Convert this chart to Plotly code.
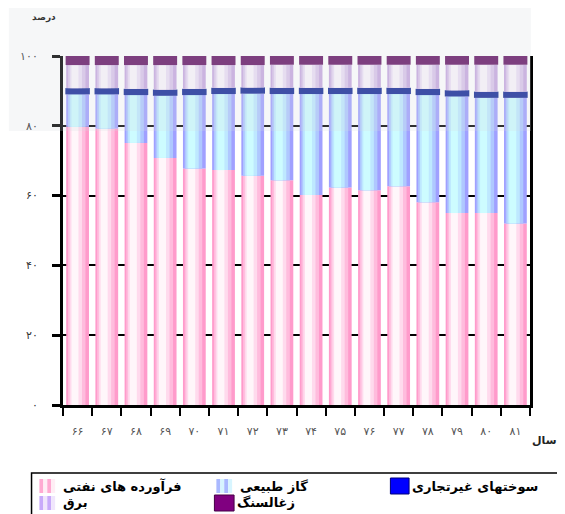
import plotly.graph_objects as go
import numpy as np

# years (Persian digits) and y ticks
years = ['۶۶', '۶۷', '۶۸', '۶۹', '۷۰', '۷۱', '۷۲', '۷۳',
         '۷۴', '۷۵', '۷۶', '۷۷', '۷۸', '۷۹', '۸۰', '۸۱']
y_ticks = [0, 20, 40, 60, 80, 100]
y_tick_labels = ['۰', '۲۰', '۴۰', '۶۰', '۸۰', '۱۰۰']

names = ['فرآورده های نفتی', 'گاز طبیعی', 'سوختهای غیرتجاری', 'برق', 'زغالسنگ']

# shares in percent
oil = [79.7, 79.2, 75.1, 70.8, 67.8, 67.3, 65.7, 64.4, 60.2, 62.3, 61.5, 62.7, 58.1, 55.0, 55.0, 52.0]
gas = [9.3, 9.8, 13.7, 17.8, 21.0, 21.8, 23.5, 24.7, 28.9, 26.8, 27.6, 26.4, 30.7, 33.4, 33.0, 36.0]
non_commercial = [1.8, 1.8, 1.8, 1.8, 1.8, 1.8, 1.8, 1.8, 1.8, 1.8, 1.8, 1.8, 1.8, 1.8, 1.8, 1.8]
electricity = [6.6, 6.6, 6.8, 7.0, 6.8, 6.5, 6.4, 6.6, 6.6, 6.6, 6.6, 6.6, 6.9, 7.3, 7.7, 7.7]
coal = [2.6, 2.6, 2.6, 2.6, 2.6, 2.6, 2.6, 2.5, 2.5, 2.5, 2.5, 2.5, 2.5, 2.5, 2.5, 2.5]

series = [oil, gas, non_commercial, electricity, coal]
bases = np.vstack([np.zeros(len(years)), np.cumsum(series, axis=0)[:-1]])

# page has an 8px body margin, so the figure is drawn 8px in from the window
PAD = 8
W, H = 565 - PAD, 514 - PAD
L, R, T, B = 55 - PAD, 35, 56 - PAD, 117 - PAD


def px(x):
    # window pixel -> paper coordinate
    return (x - PAD - L) / (W - L - R)


def py(y):
    return (H - B - (y - PAD)) / (H - T - B)


# fake horizontal gradient: stacked narrower, lighter strips
strips = [(-0.39, 0.78), (-0.33, 0.60), (-0.27, 0.42), (-0.21, 0.24)]
styles = [
    ['rgb(255,155,203)', 'rgb(255,188,221)', 'rgb(255,218,237)', 'rgb(255,246,250)'],
    ['rgb(160,160,255)', 'rgb(175,200,255)', 'rgb(190,232,255)', 'rgb(205,252,255)'],
    ['rgb(20,40,150)'],
    ['rgb(200,170,225)', 'rgb(218,198,235)', 'rgb(235,222,245)', 'rgb(250,245,252)'],
    ['rgb(100,20,100)'],
]
solid_strip = {2: (-0.42, 0.84), 4: (-0.41, 0.82)}

fig = go.Figure()
for i, vals in enumerate(series):
    for j, col in enumerate(styles[i]):
        off, w = solid_strip.get(i, strips[j])
        fig.add_trace(go.Bar(
            x=years, y=vals, base=bases[i],
            offset=off, width=w,
            name=names[i],
            marker=dict(color=col, line=dict(width=0)),
            showlegend=False,
            hoverinfo='skip'
        ))

shapes = []
# washed-out upper band of the scan
shapes.append(dict(type='rect', xref='paper', yref='paper', layer='above',
                   x0=px(0), x1=px(531), y0=py(131), y1=py(0),
                   fillcolor='rgba(215,220,225,0.22)', line=dict(width=0)))
# legend box
shapes.append(dict(type='rect', xref='paper', yref='paper',
                   x0=px(23), x1=px(600), y0=py(473), y1=py(540),
                   fillcolor='white', line=dict(color='black', width=1.5)))


def stripe_swatch(x, y, c1, c2):
    out = []
    for dx, c in [(0, c1), (4, c2), (8, c1), (12, c2)]:
        out.append(dict(type='rect', xref='paper', yref='paper',
                        x0=px(x + dx), x1=px(x + dx + 4), y0=py(y + 14), y1=py(y),
                        fillcolor=c, line=dict(width=0)))
    return out


shapes += stripe_swatch(31, 479, 'rgb(255,170,210)', 'rgb(255,238,245)')
shapes += stripe_swatch(211, 479, 'rgb(170,185,255)', 'rgb(215,245,255)')
shapes += stripe_swatch(31, 496, 'rgb(200,170,250)', 'rgb(240,230,252)')
shapes.append(dict(type='rect', xref='paper', yref='paper',
                   x0=px(388), x1=px(407), y0=py(494), y1=py(478),
                   fillcolor='rgb(0,0,255)', line=dict(color='rgb(0,0,120)', width=1)))
shapes.append(dict(type='rect', xref='paper', yref='paper',
                   x0=px(209), x1=px(229), y0=py(511), y1=py(495),
                   fillcolor='rgb(128,0,128)', line=dict(color='rgb(70,0,70)', width=1)))

legend_font = dict(family='DejaVu Sans', size=13, color='black')
annotations = []
for name, x, y in [(names[0], 53, 486), (names[1], 233, 486), (names[2], 408, 486),
                   (names[3], 53, 503), (names[4], 230, 503)]:
    annotations.append(dict(text='<b>' + name + '</b>', xref='paper', yref='paper',
                            x=px(x), y=py(y), xanchor='left', yanchor='middle',
                            showarrow=False, font=legend_font))
annotations.append(dict(text='<b>درصد</b>', xref='paper', yref='paper',
                        x=px(50), y=py(17), xanchor='right', yanchor='middle',
                        showarrow=False, font=dict(family='DejaVu Sans', size=9, color='#333')))
annotations.append(dict(text='<b>سال</b>', xref='paper', yref='paper',
                        x=px(560), y=py(440), xanchor='right', yanchor='middle',
                        showarrow=False, font=dict(family='DejaVu Sans', size=11, color='#222')))

fig.update_layout(
    width=W, height=H,
    margin=dict(l=L, r=R, t=T, b=B),
    barmode='overlay',
    paper_bgcolor='white', plot_bgcolor='white',
    font=dict(family='DejaVu Sans'),
    xaxis=dict(type='category', tickson='boundaries', range=[-0.5, 15.5],
               ticks='outside', ticklen=8, tickwidth=2, tickcolor='black',
               showline=True, linewidth=3, linecolor='black', showgrid=False,
               tickfont=dict(size=11, color='#555'), ticklabelstandoff=14),
    yaxis=dict(range=[0, 100], tickvals=y_ticks, ticktext=y_tick_labels,
               ticks='outside', ticklen=8, tickwidth=3, tickcolor='black',
               showline=True, linewidth=3, linecolor='black', mirror=True,
               showgrid=True, gridcolor='black', gridwidth=2, zeroline=False,
               tickfont=dict(size=11, color='#333'), ticklabelstandoff=12),
    shapes=shapes,
    annotations=annotations,
    showlegend=False
)

fig.write_html("out.html")
